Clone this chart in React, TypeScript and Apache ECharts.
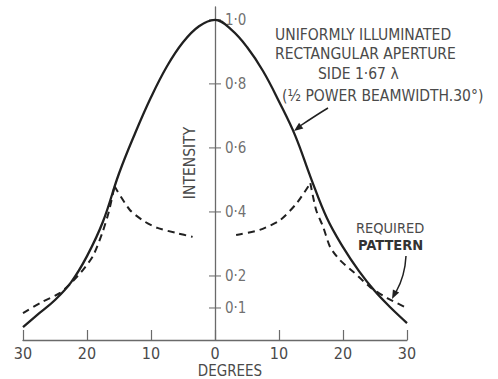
import React, { useEffect, useRef } from "react";
import * as echarts from "echarts";

// Angle off boresight (degrees, negative = left side) and relative intensity
const apertureAngles = [-30, -27.5, -25, -22.5, -20, -17.5, -15, -12.5, -10, -7.5, -5, -2.5, 0, 2.5, 5, 7.5, 10, 12.5, 15, 17.5, 20, 22.5, 25, 27.5, 30];
const apertureIntensity = [0.04, 0.083, 0.125, 0.18, 0.262, 0.37, 0.52, 0.645, 0.758, 0.855, 0.93, 0.98, 1.0, 0.97, 0.915, 0.84, 0.745, 0.64, 0.505, 0.38, 0.29, 0.215, 0.152, 0.1, 0.053];

// Required pattern, drawn as four branches meeting at the two cusps
const reqLeftOuterX = [-30, -27.3, -24.2, -22.5, -20.5, -19, -17.6, -16.6, -15.7];
const reqLeftOuterY = [0.084, 0.116, 0.147, 0.178, 0.222, 0.265, 0.335, 0.4, 0.48];
const reqLeftInnerX = [-15.7, -13.3, -11, -9, -6, -3.5];
const reqLeftInnerY = [0.48, 0.406, 0.37, 0.35, 0.334, 0.322];
const reqRightInnerX = [3.3, 7, 10.2, 12.8, 14.9];
const reqRightInnerY = [0.328, 0.344, 0.375, 0.428, 0.49];
const reqRightOuterX = [14.9, 15.8, 16.9, 18, 19.5, 21.6, 24.2, 26.9, 30];
const reqRightOuterY = [0.49, 0.406, 0.353, 0.29, 0.25, 0.213, 0.166, 0.131, 0.1];

const xTicks = [-30, -20, -10, 0, 10, 20, 30];
const yTicks = [0.1, 0.2, 0.4, 0.6, 0.8, 1.0];

const FONT = "'DejaVu Sans Condensed', 'DejaVu Sans', sans-serif";
const INK = "#202020";
const TEXT = "#4a4a4a";
const AXIS = "#6a6a6a";

const pairs = (xs: number[], ys: number[]) => xs.map((x, i) => [x, ys[i]]);

// Filled arrowhead with its tip at (tx, ty), pointing along (dx, dy)
function arrowHead(tx: number, ty: number, dx: number, dy: number, len = 9, half = 3.5) {
  const n = Math.hypot(dx, dy);
  const ux = dx / n;
  const uy = dy / n;
  const bx = tx - ux * len;
  const by = ty - uy * len;
  return {
    type: "polygon",
    shape: { points: [[tx, ty], [bx - uy * half, by + ux * half], [bx + uy * half, by - ux * half]] },
    style: { fill: INK },
  };
}

export default function App() {
  const ref = useRef<HTMLDivElement>(null);

  useEffect(() => {
    if (!ref.current) return;
    const chart = echarts.init(ref.current, null, { renderer: "svg" });

    const dashed = (data: number[][]) => ({
      type: "line",
      data,
      smooth: 0.25,
      symbol: "none",
      lineStyle: { color: INK, width: 2, type: [7, 5] },
      z: 3,
    });

    const label = (text: string, x: number, y: number, extra: any = {}) => ({
      type: "text",
      x,
      y,
      style: { text, fill: TEXT, font: `15.5px ${FONT}`, textVerticalAlign: "middle", ...extra },
    });

    chart.setOption({
      animation: false,
      grid: { left: 23, right: 91, top: 7, bottom: 39 },
      xAxis: {
        type: "value",
        min: -30,
        max: 30,
        interval: 10,
        axisLine: { onZero: false, lineStyle: { color: AXIS, width: 1.3 } },
        axisTick: { inside: true, length: 10, lineStyle: { color: AXIS, width: 1.2 } },
        axisLabel: {
          margin: 5,
          color: TEXT,
          fontFamily: FONT,
          fontSize: 16,
          formatter: (v: number) => String(Math.abs(v)),
          customValues: xTicks,
        },
        splitLine: { show: false },
      },
      yAxis: {
        type: "value",
        min: 0,
        max: 1.04,
        axisLine: { onZero: true, lineStyle: { color: AXIS, width: 1.3 } },
        axisTick: { show: false },
        axisLabel: { show: false },
        splitLine: { show: false },
      },
      series: [
        {
          type: "line",
          data: pairs(apertureAngles, apertureIntensity),
          smooth: 0.4,
          symbol: "none",
          lineStyle: { color: INK, width: 2.3 },
          z: 4,
        },
        dashed(pairs(reqLeftOuterX, reqLeftOuterY)),
        dashed(pairs(reqLeftInnerX, reqLeftInnerY)),
        dashed(pairs(reqRightInnerX, reqRightInnerY)),
        dashed(pairs(reqRightOuterX, reqRightOuterY)),
        // Intensity scale: cross ticks on the central axis with their values
        {
          type: "scatter",
          data: yTicks.map((v) => [0, v]),
          symbol: "rect",
          symbolSize: [12, 1.3],
          itemStyle: { color: AXIS },
          silent: true,
          z: 2,
          label: {
            show: true,
            position: "right",
            distance: 4,
            color: TEXT,
            fontFamily: FONT,
            fontSize: 15,
            formatter: (p: any) => p.value[1].toFixed(1).replace(".", "·"),
          },
        },
      ],
      graphic: [
        label("DEGREES", 230, 371, { textAlign: "center", font: `15px ${FONT}` }),
        {
          type: "text",
          x: 190,
          y: 163,
          rotation: Math.PI / 2,
          style: { text: "INTENSITY", fill: TEXT, font: `15.5px ${FONT}`, textAlign: "center", textVerticalAlign: "middle" },
        },
        label("UNIFORMLY ILLUMINATED", 275, 35),
        label("RECTANGULAR APERTURE", 275, 54),
        label("SIDE 1·67 λ", 318, 74),
        label("(½ POWER BEAMWIDTH.30°)", 282, 96),
        {
          type: "bezierCurve",
          shape: { x1: 328, y1: 108, cpx1: 318, cpy1: 114, x2: 300, y2: 126 },
          style: { stroke: INK, lineWidth: 1.5, fill: "none" },
        },
        arrowHead(294, 131, -0.8, 0.6),
        label("REQUIRED", 356, 228, { font: `14.5px ${FONT}` }),
        label("PATTERN", 358, 245, { font: `bold 14.5px ${FONT}`, fill: "#333" }),
        {
          type: "bezierCurve",
          shape: { x1: 406, y1: 256, cpx1: 405, cpy1: 276, x2: 396, y2: 292 },
          style: { stroke: INK, lineWidth: 1.5, fill: "none" },
        },
        arrowHead(392, 299, -0.45, 0.9),
      ],
    });

    return () => chart.dispose();
  }, []);

  return <div ref={ref} style={{ position: "fixed", left: 0, top: 0, width: 498, height: 379, background: "#fff" }} />;
}
